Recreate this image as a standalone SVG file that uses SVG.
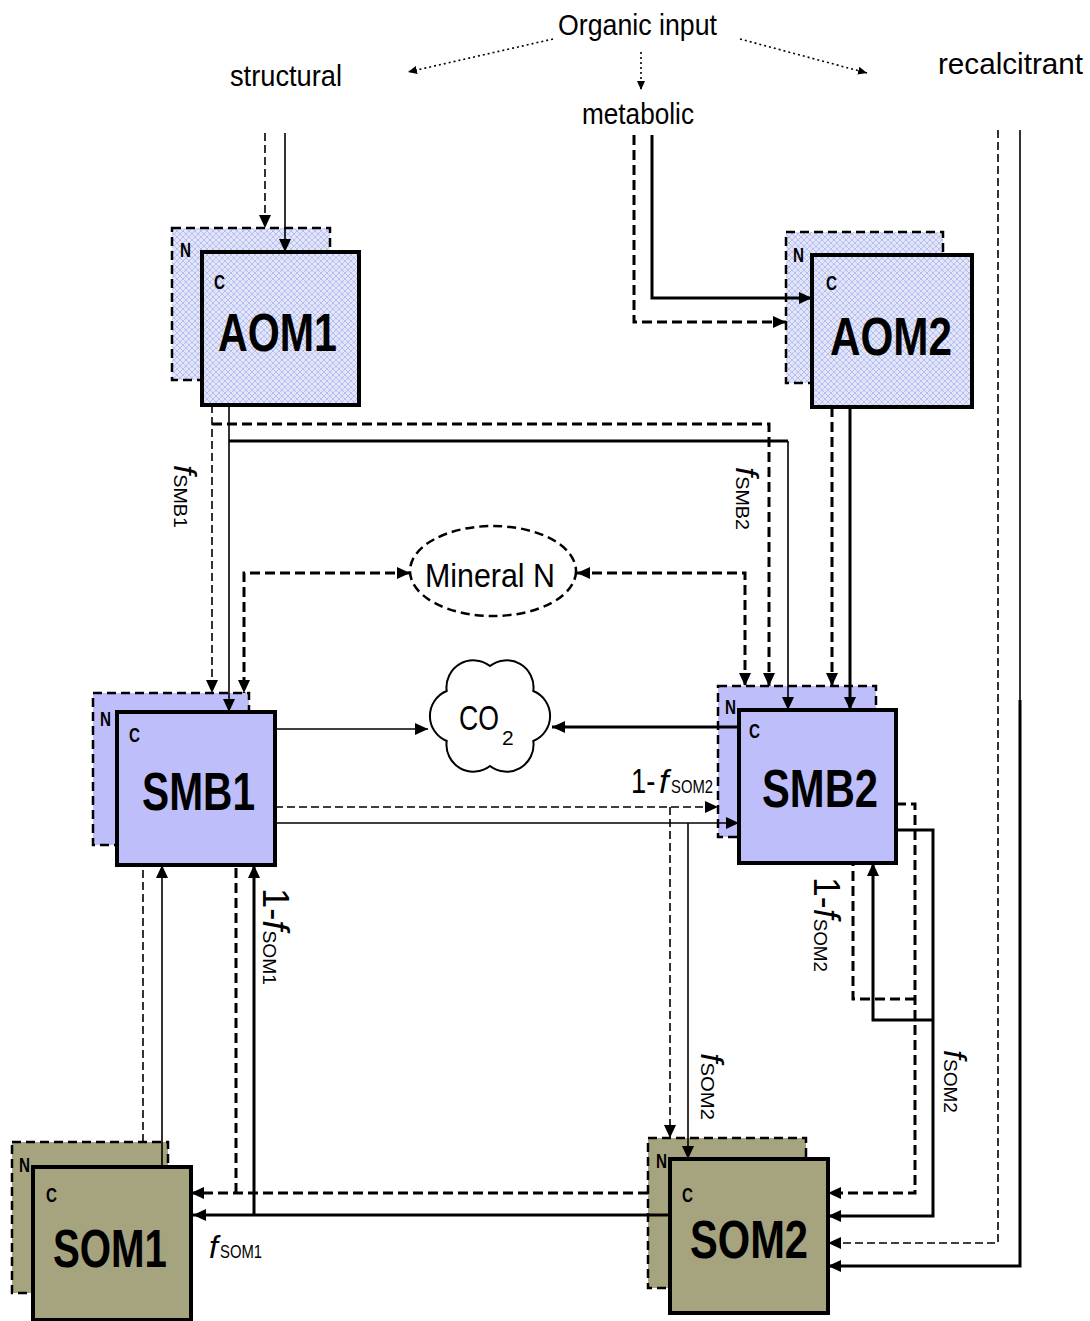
<svg xmlns="http://www.w3.org/2000/svg" width="1090" height="1321" viewBox="0 0 1090 1321">
<style>
.ln{fill:none;stroke:#000}
.s1{stroke-width:1.6}
.s2{stroke-width:3}
.d1{stroke-width:1.6;stroke-dasharray:8 4}
.d2{stroke-width:3;stroke-dasharray:10 5}
.dot{stroke-width:1.6;stroke-dasharray:2 3}
.nb{stroke:#000;stroke-width:2.5;stroke-dasharray:9 5}
.cb{stroke:#000;stroke-width:4}
.aom{fill:url(#hatch)}
.smb{fill:#bebefa}
.som{fill:#a6a37f}
.t{font-family:"Liberation Sans Narrow","Liberation Sans",Arial,sans-serif;fill:#000}
.big{font-size:54px;font-weight:bold}
.lab{font-size:30px}
.nc{font-size:21px;font-weight:bold}
.fi{font-style:italic}
</style>
<defs>
<pattern id="hatch" patternUnits="userSpaceOnUse" width="6" height="6">
<rect width="6" height="6" fill="#e3e6f8"/>
<path d="M0,0 L6,6 M6,0 L0,6" stroke="#b7bff0" stroke-width="1"/>
</pattern>
<marker id="ah" markerUnits="userSpaceOnUse" markerWidth="14" markerHeight="12" refX="13" refY="6" orient="auto-start-reverse">
<path d="M0,0 L13,6 L0,12 z" fill="#000"/>
</marker>
<marker id="sah" markerUnits="userSpaceOnUse" markerWidth="10" markerHeight="8" refX="9" refY="4" orient="auto">
<path d="M0,0 L9,4 L0,8 z" fill="#000"/>
</marker>
</defs>
<rect width="1090" height="1321" fill="#fff"/>

<g id="AOM1">
<rect class="aom nb" x="172" y="228" width="158" height="152"/>
<rect class="aom cb" x="202" y="252" width="157" height="153"/>
<text class="t nc" x="180" y="257" textLength="11" lengthAdjust="spacingAndGlyphs">N</text>
<text class="t nc" x="214" y="289" textLength="11" lengthAdjust="spacingAndGlyphs">C</text>
<text class="t big" x="218" y="351" textLength="119" lengthAdjust="spacingAndGlyphs">AOM1</text>
</g>
<g id="AOM2">
<rect class="aom nb" x="786" y="232" width="157" height="151"/>
<rect class="aom cb" x="812" y="255" width="160" height="152"/>
<text class="t nc" x="793" y="262" textLength="11" lengthAdjust="spacingAndGlyphs">N</text>
<text class="t nc" x="826" y="290" textLength="11" lengthAdjust="spacingAndGlyphs">C</text>
<text class="t big" x="830" y="355" textLength="122" lengthAdjust="spacingAndGlyphs">AOM2</text>
</g>
<g id="SMB1">
<rect class="smb nb" x="93" y="693" width="156" height="152"/>
<rect class="smb cb" x="117" y="712" width="158" height="153"/>
<text class="t nc" x="100" y="726" textLength="11" lengthAdjust="spacingAndGlyphs">N</text>
<text class="t nc" x="129" y="742" textLength="11" lengthAdjust="spacingAndGlyphs">C</text>
<text class="t big" x="142" y="810" font-size="51" textLength="113" lengthAdjust="spacingAndGlyphs">SMB1</text>
</g>
<g id="SMB2">
<rect class="smb nb" x="718" y="686" width="158" height="151"/>
<rect class="smb cb" x="739" y="710" width="157" height="153"/>
<text class="t nc" x="725" y="714" textLength="11" lengthAdjust="spacingAndGlyphs">N</text>
<text class="t nc" x="749" y="738" textLength="11" lengthAdjust="spacingAndGlyphs">C</text>
<text class="t big" x="762" y="807" font-size="49" textLength="116" lengthAdjust="spacingAndGlyphs">SMB2</text>
</g>
<g id="SOM1">
<rect class="som nb" x="12" y="1142" width="156" height="151"/>
<rect class="som cb" x="33" y="1167" width="158" height="153"/>
<text class="t nc" x="19" y="1172" textLength="11" lengthAdjust="spacingAndGlyphs">N</text>
<text class="t nc" x="46" y="1202" textLength="11" lengthAdjust="spacingAndGlyphs">C</text>
<text class="t big" x="53" y="1267" font-size="53" textLength="114" lengthAdjust="spacingAndGlyphs">SOM1</text>
</g>
<g id="SOM2">
<rect class="som nb" x="648" y="1138" width="158" height="150"/>
<rect class="som cb" x="670" y="1159" width="158" height="154"/>
<text class="t nc" x="656" y="1168" textLength="11" lengthAdjust="spacingAndGlyphs">N</text>
<text class="t nc" x="682" y="1202" textLength="11" lengthAdjust="spacingAndGlyphs">C</text>
<text class="t big" x="690" y="1258" font-size="50" textLength="118" lengthAdjust="spacingAndGlyphs">SOM2</text>
</g>
<g id="MineralN">
<ellipse cx="493" cy="571" rx="83" ry="45" fill="none" stroke="#000" stroke-width="2.5" stroke-dasharray="9 5"/>
<text class="t" x="425" y="587" font-size="34" textLength="130" lengthAdjust="spacingAndGlyphs">Mineral N</text>
</g>
<g id="CO2">
<path d="M490,666 A27,27 0 0 1 533.3,691 A27,27 0 0 1 533.3,741 A27,27 0 0 1 490,766 A27,27 0 0 1 446.7,741 A27,27 0 0 1 446.7,691 A27,27 0 0 1 490,666 Z" fill="#fff" stroke="#000" stroke-width="2"/>
<text class="t" transform="translate(459,730) scale(0.74,1)" font-size="36">CO</text>
<text class="t" x="502" y="745" font-size="21">2</text>
</g>
<g id="inputs">
<text class="t lab" x="558" y="35" textLength="159" lengthAdjust="spacingAndGlyphs">Organic input</text>
<text class="t lab" x="230" y="86" textLength="112" lengthAdjust="spacingAndGlyphs">structural</text>
<text class="t lab" x="582" y="124" textLength="112" lengthAdjust="spacingAndGlyphs">metabolic</text>
<text class="t lab" x="938" y="74" textLength="145" lengthAdjust="spacingAndGlyphs">recalcitrant</text>
</g>

<g id="connectors">
<path class="ln dot" d="M553,39 L408,72" marker-end="url(#sah)"/>
<path class="ln dot" d="M641,52 L641,90" marker-end="url(#sah)"/>
<path class="ln dot" d="M740,39 L867,73" marker-end="url(#sah)"/>
<path class="ln d1" d="M265,133 V228" marker-end="url(#ah)"/>
<path class="ln s1" d="M285,133 V252" marker-end="url(#ah)"/>
<path class="ln s2" d="M652,135 V298 H812" marker-end="url(#ah)"/>
<path class="ln d2" d="M634,135 V322 H786" marker-end="url(#ah)"/>
<path class="ln d1" d="M212,405 V693" marker-end="url(#ah)"/>
<path class="ln s1" d="M229,405 V712" marker-end="url(#ah)"/>
<path class="ln d2" d="M212,424 H769 V686" marker-end="url(#ah)"/>
<path class="ln s2" d="M229,441 H788"/>
<path class="ln s1" d="M788,441 V710" marker-end="url(#ah)"/>
<path class="ln d2" d="M832,407 V686" marker-end="url(#ah)"/>
<path class="ln s2" d="M850,407 V710" marker-end="url(#ah)"/>
<path class="ln d2" d="M410,573 H244 V693" marker-start="url(#ah)" marker-end="url(#ah)"/>
<path class="ln d2" d="M577,573 H745 V686" marker-start="url(#ah)" marker-end="url(#ah)"/>
<path class="ln s1" d="M275,729 H428" marker-end="url(#ah)"/>
<path class="ln s2" d="M739,727 H552" marker-end="url(#ah)"/>
<path class="ln d1" d="M275,807 H718" marker-end="url(#ah)"/>
<path class="ln s1" d="M275,823 H739" marker-end="url(#ah)"/>
<path class="ln d1" d="M670,807 V1138" marker-end="url(#ah)"/>
<path class="ln s1" d="M688,823 V1159" marker-end="url(#ah)"/>
<path class="ln d2" d="M896,804 H915 V1193 H828" marker-end="url(#ah)"/>
<path class="ln s2" d="M896,830 H933 V1216 H828" marker-end="url(#ah)"/>
<path class="ln d2" d="M915,999 H853 V863"/>
<path class="ln s2" d="M933,1020 H873 V863" marker-end="url(#ah)"/>
<path class="ln d1" d="M998,130 V1243 H828" marker-end="url(#ah)"/>
<path class="ln s1" d="M1020,130 V702"/>
<path class="ln s2" d="M1020,700 V1266 H828" marker-end="url(#ah)"/>
<path class="ln d2" d="M648,1193 H191" marker-end="url(#ah)"/>
<path class="ln d2" d="M236,1193 V865"/>
<path class="ln s2" d="M670,1215 H193" marker-end="url(#ah)"/>
<path class="ln s2" d="M254,1215 V865" marker-end="url(#ah)"/>
<path class="ln d1" d="M143,1142 V865"/>
<path class="ln s1" d="M162,1167 V865" marker-end="url(#ah)"/>
</g>

<g id="labels">
<text class="t" transform="translate(174,465) rotate(90)" textLength="63" lengthAdjust="spacingAndGlyphs"><tspan class="fi" font-size="32">f</tspan><tspan font-size="19">SMB1</tspan></text>
<text class="t" transform="translate(736,467) rotate(90)" textLength="63" lengthAdjust="spacingAndGlyphs"><tspan class="fi" font-size="32">f</tspan><tspan font-size="19">SMB2</tspan></text>
<text class="t" transform="translate(631,793) scale(0.76,1)" font-size="36">1-</text>
<text class="t fi" x="659" y="793" font-size="34">f</text>
<text class="t" x="671" y="793" font-size="19" textLength="42" lengthAdjust="spacingAndGlyphs">SOM2</text>
<text class="t" transform="translate(814,877) rotate(90)" textLength="95" lengthAdjust="spacingAndGlyphs"><tspan font-size="36">1-</tspan><tspan class="fi" font-size="36">f</tspan><tspan font-size="19">SOM2</tspan></text>
<text class="t" transform="translate(263,888) rotate(90)" textLength="97" lengthAdjust="spacingAndGlyphs"><tspan font-size="36">1-</tspan><tspan class="fi" font-size="36">f</tspan><tspan font-size="19">SOM1</tspan></text>
<text class="t" transform="translate(701,1053) rotate(90)" textLength="67" lengthAdjust="spacingAndGlyphs"><tspan class="fi" font-size="32">f</tspan><tspan font-size="19">SOM2</tspan></text>
<text class="t" transform="translate(944,1050) rotate(90)" textLength="63" lengthAdjust="spacingAndGlyphs"><tspan class="fi" font-size="32">f</tspan><tspan font-size="19">SOM2</tspan></text>
<text class="t fi" x="209" y="1258" font-size="32">f</text>
<text class="t" x="220" y="1258" font-size="19" textLength="42" lengthAdjust="spacingAndGlyphs">SOM1</text>
</g>
</svg>
